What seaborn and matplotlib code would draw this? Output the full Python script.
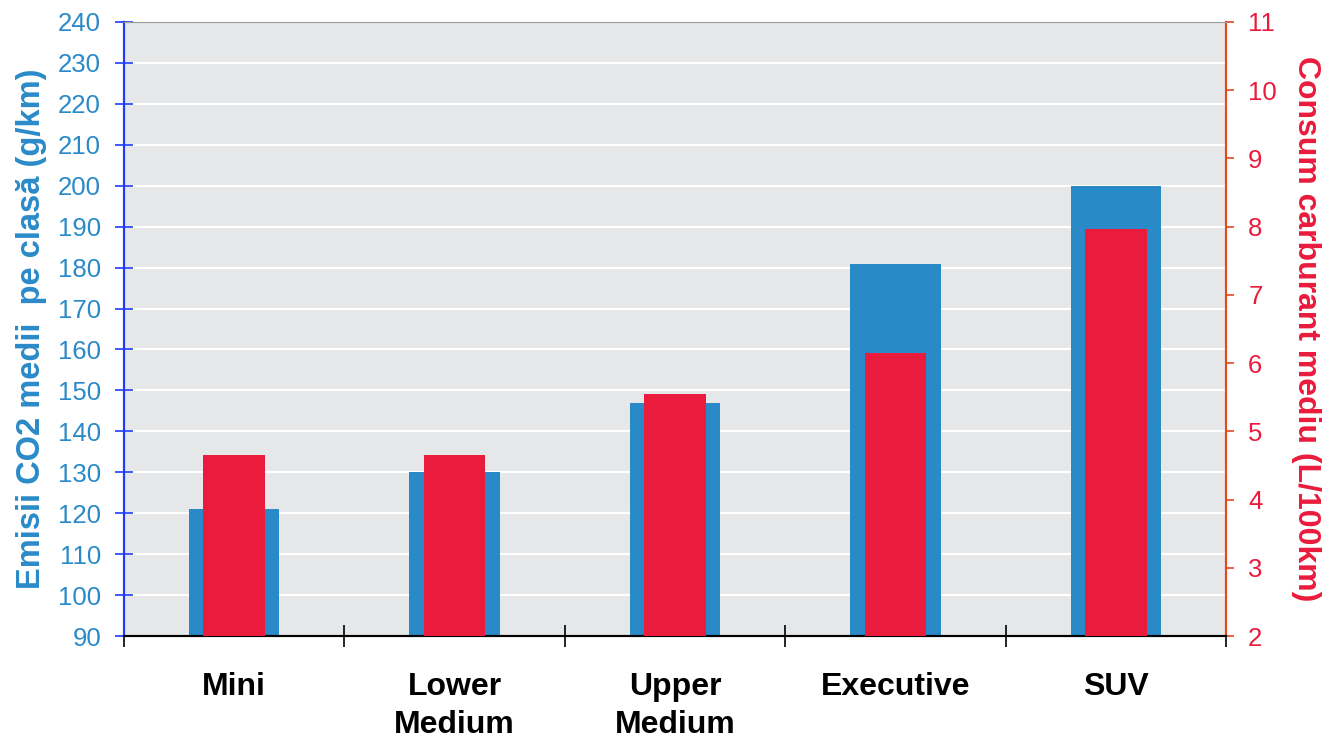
import matplotlib
matplotlib.use("Agg")
import matplotlib.pyplot as plt
import seaborn as sns

# data
classes = ["Mini", "Lower\nMedium", "Upper\nMedium", "Executive", "SUV"]
co2_gkm = [121, 130, 147, 181, 200]
fuel_l100 = [4.65, 4.65, 5.55, 6.15, 7.97]

blue = "#2A8AC8"
red = "#EA1B3C"

sns.set_style("white")
plt.rcParams["font.family"] = ["Liberation Sans", "DejaVu Sans"]

fig = plt.figure(figsize=(13.38, 7.38), dpi=100)
ax = fig.add_axes([0.0927, 0.1382, 0.8236, 0.832])
ax.set_facecolor("#E6E7E9")

sns.barplot(x=classes, y=co2_gkm, ax=ax, color=blue, width=0.41, saturation=1,
            linewidth=0, zorder=2)
ax.set_ylim(90, 240)
ax.set_yticks(range(90, 241, 10))
ax.yaxis.grid(True, color="white", linewidth=1.5, zorder=0)
ax.set_axisbelow(True)

ax2 = ax.twinx()
sns.barplot(x=classes, y=fuel_l100, ax=ax2, color=red, width=0.28, saturation=1,
            linewidth=0, zorder=3)
ax2.set_ylim(2, 11)
ax2.set_yticks(range(2, 12))
ax2.grid(False)

# x axis: ticks at class boundaries, labels in the middle
ax.set_xlim(-0.5, 4.5)
ax.set_xticks([i - 0.5 for i in range(6)])
ax.set_xticklabels([])
ax.set_xticks(range(5), minor=True)
ax.set_xticklabels(classes, minor=True, fontsize=23, fontweight="bold", color="black",
                   linespacing=1.36, va="top")
ax.tick_params(axis="x", which="major", bottom=True, direction="inout", length=16,
               width=1.2, color="black")
ax.tick_params(axis="x", which="minor", bottom=True, length=0, pad=26)
ax.set_xlabel("")
ax2.set_xlabel("")

ax.tick_params(axis="y", left=True, direction="inout", length=13, width=1.2,
               color="#1F3BFF", labelcolor=blue, labelsize=18.5, pad=10)
ax2.tick_params(axis="y", right=True, direction="out", length=6, width=1.2,
                color="#E8461E", labelcolor=red, labelsize=18.5, pad=10)

ax.set_ylabel("Emisii CO2 medii  pe clasă (g/km)", color=blue, fontsize=23.5,
              fontweight="bold", labelpad=8)
ax2.set_ylabel("Consum carburant mediu (L/100km)", color=red, fontsize=23,
               fontweight="bold", rotation=270, labelpad=32)

for a in (ax, ax2):
    a.spines["top"].set_color("#A0A0A0")
    a.spines["bottom"].set_color("black")
    a.spines["bottom"].set_linewidth(1.5)
    a.spines["left"].set_color("#1F3BFF")
    a.spines["left"].set_linewidth(1.5)
    a.spines["right"].set_color("#E8461E")
    a.spines["right"].set_linewidth(1.5)

fig.savefig("out.png", dpi=100)
